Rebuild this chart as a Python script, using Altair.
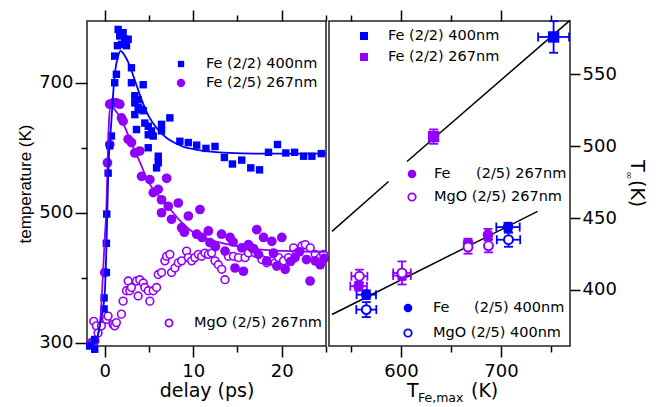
import altair as alt
import pandas as pd

BLUE = "#0000ff"
PURPLE = "#9000ff"
FONT = "DejaVu Sans"

# ---------------- left panel data: temperature vs delay ----------------
fe400_t = [-1.7, -1.13, -1.13, -0.07, -0.07, 0.19, 0.19, 0.23, 0.39, 0.57, 0.76, 1.13, 1.32, 1.13, 1.52,
           1.70, 2.08, 2.26, 1.89, 2.65, 1.44, 2.46, 3.02, 3.02, 3.40, 4.35, 3.40, 3.78, 3.78, 4.16,
           3.40, 4.35, 4.53, 3.59, 4.92, 4.92, 5.29, 5.48, 6.42, 6.42, 4.92, 6.05, 6.05, 5.86, 7.36,
           8.49, 9.45, 10.39, 11.44, 12.46, 13.52, 14.43, 15.48, 16.50, 17.49, 18.50, 19.52, 20.46,
           21.45, 22.47, 23.41, 24.46]
fe400_T = [295, 290, 305, 352, 369, 408, 453, 498, 561, 603, 618, 700, 713, 741, 782,
           772, 777, 767, 759, 767, 757, 757, 723, 700, 680, 697, 669, 674, 662, 659,
           651, 657, 638, 628, 633, 620, 626, 618, 636, 626, 600, 587, 577, 569, 646,
           610, 608, 604, 599, 602, 585, 575, 581, 569, 566, 593, 605, 592,
           593, 587, 587, 591]

fe267_t = [-1.5, -1.13, 0.0, 0.31, 0.57, 0.57, 0.95, 1.32, 1.70, 1.89, 2.08, 2.65, 3.02, 3.40, 3.96,
           4.16, 5.10, 7.00, 5.48, 6.05, 6.42, 7.18, 8.31, 6.42, 7.55, 9.45, 10.76, 8.69, 10.39, 11.71,
           11.89, 13.20, 14.16, 15.48, 16.24, 17.18, 17.94, 18.88, 20.01, 13.59, 14.72, 15.67, 18.31,
           19.44, 20.39, 23.20, 21.50, 23.78, 24.35, 19.07, 17.37, 12.5, 9.0, 11.0, 14.5, 16.8, 21.0,
           22.0, 22.8, 24.8]
fe267_T = [300, 303, 408, 577, 605, 667, 669, 669, 667, 646, 641, 613, 608, 592, 595,
           556, 551, 553, 531, 536, 520, 510, 515, 500, 490, 495, 505, 477, 467, 472,
           454, 467, 462, 446, 451, 474, 462, 456, 462, 441, 415, 410, 426,
           418, 413, 395, 431, 426, 420, 438, 436, 448, 470, 462, 455, 445, 425,
           440, 428, 430]

mgo267_t = [-1.24, -0.94, -0.75, -0.37, 0.19, 0.38, 0.95, 1.13, 1.32, 1.89, 2.08, 2.46, 2.65, 2.83,
            3.02, 3.59, 3.78, 3.96, 4.35, 4.53, 5.10, 4.92, 5.48, 5.86, 6.05, 6.42, 6.80, 6.99, 7.36,
            7.55, 7.93, 8.31, 8.69, 9.25, 9.45, 9.82, 10.19, 10.58, 10.95, 11.33, 11.71, 12.08, 12.46,
            12.84, 13.22, 13.59, 13.97, 14.54, 15.11, 15.86, 16.24, 16.61, 16.99, 17.75, 18.31, 18.88,
            19.25, 19.64, 20.20, 20.77, 21.34, 21.71, 22.28, 22.65, 23.22, 23.78, 24.35, 24.73]
mgo267_T = [333, 326, 315, 326, 336, 341, 328, 326, 331, 344, 364, 380, 395, 380,
            385, 395, 372, 397, 392, 385, 364, 380, 380, 385, 405, 408, 426, 433, 436,
            408, 415, 423, 426, 441, 431, 426, 431, 436, 433, 438, 436, 438, 426,
            420, 413, 397, 433, 433, 431, 431, 438, 446, 438, 428, 423, 426,
            423, 431, 426, 431, 446, 438, 449, 451, 446, 436, 431, 436]

fit400_t = [-2, -1.5, -1, -0.5, 0, 0.2, 0.4, 0.75, 1.1, 1.5, 1.8, 2.2, 2.8, 3.5, 4.2, 5, 6, 7, 8, 9,
            10, 12, 14, 17, 20, 25]
fit400_T = [296, 297, 302, 330, 375, 450, 560, 640, 708, 740, 749, 743, 727, 700, 673, 648, 628, 615,
            607, 601, 598, 594, 592, 591, 591, 591]

fit267_t = [-2, -1.5, -1, -0.5, -0.2, 0, 0.2, 0.35, 0.5, 0.7, 1.0, 1.5, 2, 3, 4, 5, 6, 7, 8.5, 10,
            12.5, 14.5, 18, 21, 25]
fit267_T = [296, 297, 302, 335, 405, 459, 510, 590, 645, 667, 661, 652, 640, 608, 577, 546, 528, 512,
            488, 470, 456, 450, 443, 441, 440]

# ---------------- right panel data: T_inf vs T_Fe,max ----------------
r_group = ["Fe (2/2) 400nm", "Fe (2/2) 267nm",
           "Fe (2/5) 267nm", "Fe (2/5) 267nm", "Fe (2/5) 267nm", "Fe (2/5) 267nm",
           "MgO (2/5) 267nm", "MgO (2/5) 267nm", "MgO (2/5) 267nm", "MgO (2/5) 267nm",
           "Fe (2/5) 400nm", "Fe (2/5) 400nm",
           "MgO (2/5) 400nm", "MgO (2/5) 400nm"]
r_x = [752.6, 632.6, 557.6, 601.0, 667.0, 687.0, 558.4, 601.0, 667.0, 687.5, 565.3, 707.0, 565.3, 707.5]
r_y = [575.9, 506.6, 402.6, 410.0, 432.6, 438.4, 409.5, 411.8, 429.8, 430.7, 396.7, 443.7, 386.3, 434.9]
r_xerr = [15.5, 4, 8.3, 8.8, 0, 0, 8, 8.8, 0, 0, 9.7, 11.7, 10, 11.7]
r_yerr = [11, 5, 3, 3, 3, 4, 4.6, 8, 4.6, 4.6, 3, 3, 5.2, 4.9]

line_seg = ["a", "a", "b", "b", "c", "c"]
line_x = [531, 587.6, 606, 769, 531, 736.6]
line_y = [440.7, 475.4, 489.3, 587.4, 382.9, 454.6]

group_order = ["Fe (2/2) 400nm", "Fe (2/2) 267nm", "Fe (2/5) 267nm",
               "MgO (2/5) 267nm", "Fe (2/5) 400nm", "MgO (2/5) 400nm"]
group_colors = [BLUE, PURPLE, PURPLE, PURPLE, BLUE, BLUE]

# ---------------- layout constants ----------------
W1, W2, H = 239, 241, 325
X0_L, X0_R, Y0 = 86, 328, 18  # image position of plot origins (for legend placement)

dummy = pd.DataFrame({"d": [0]})

ax_common = dict(grid=False, domain=False, tickColor="black", tickWidth=1.5,
                 labelColor="black", labelFont=FONT, labelFontSize=18,
                 titleColor="black", titleFontWeight="normal")


def sym(x, y, shape, color, size, open_=False, x0=0):
    if open_:
        m = alt.Chart(dummy).mark_point(shape=shape, fill="white", stroke=color, strokeWidth=1.8,
                                        size=size, opacity=1, fillOpacity=1)
    else:
        m = alt.Chart(dummy).mark_point(shape=shape, filled=True, color=color, size=size, opacity=1)
    return m.encode(x=alt.value(x - x0), y=alt.value(y - Y0))


def txt(x, y, s, x0=0, size=14.5):
    return alt.Chart(dummy).mark_text(text=s, align="left", baseline="middle", font=FONT,
                                      fontSize=size, color="black").encode(
        x=alt.value(x - x0), y=alt.value(y - Y0))


# ---------------- left panel ----------------
xs1 = alt.Scale(domain=[-2, 25], nice=False, zero=False)
ys1 = alt.Scale(domain=[295, 795], nice=False, zero=False)

x1_bottom = alt.Axis(orient="bottom", values=[0, 5, 10, 15, 20, 25],
                     labelExpr="datum.value % 10 === 0 ? datum.label : ''",
                     tickSize={"condition": {"test": "datum.value % 10 === 0", "value": 11}, "value": 6},
                     labelPadding=5, labelFlush=False, title="delay (ps)", titleFont=FONT,
                     titleFontSize=19, titlePadding=1, **ax_common)
x1_top = alt.Axis(orient="top", values=[0, 5, 10, 15, 20, 25], labels=False,
                  tickSize={"condition": {"test": "datum.value % 10 === 0", "value": 11}, "value": 6},
                  title=None, **ax_common)
y1_left = alt.Axis(orient="left", values=[300, 400, 500, 600, 700],
                   labelExpr="datum.value % 200 === 100 ? datum.label : ''",
                   tickSize={"condition": {"test": "datum.value % 200 === 100", "value": 12}, "value": 6},
                   labelPadding=2, title="temperature (K)", titleFont="Liberation Sans",
                   titleFontSize=17, titlePadding=4, **ax_common)

df_fe400 = pd.DataFrame({"t": fe400_t, "T": fe400_T})
df_fe267 = pd.DataFrame({"t": fe267_t, "T": fe267_T})
df_mgo267 = pd.DataFrame({"t": mgo267_t, "T": mgo267_T})
df_fit400 = pd.DataFrame({"t": fit400_t, "T": fit400_T})
df_fit267 = pd.DataFrame({"t": fit267_t, "T": fit267_T})

l_mgo = alt.Chart(df_mgo267).mark_point(shape="circle", fill="white", stroke=PURPLE, strokeWidth=1.6,
                                       size=60, opacity=1, fillOpacity=1).encode(
    x=alt.X("t:Q", scale=xs1, axis=x1_bottom), y=alt.Y("T:Q", scale=ys1, axis=y1_left))
l_fe267 = alt.Chart(df_fe267).mark_circle(size=95, color=PURPLE, opacity=1).encode(
    x=alt.X("t:Q", scale=xs1, axis=None), y=alt.Y("T:Q", scale=ys1, axis=None))
l_fe400 = alt.Chart(df_fe400).mark_square(size=55, color=BLUE, opacity=1).encode(
    x=alt.X("t:Q", scale=xs1, axis=None), y=alt.Y("T:Q", scale=ys1, axis=None))
l_fit267 = alt.Chart(df_fit267).mark_line(color=PURPLE, strokeWidth=1.8, interpolate="monotone").encode(
    x=alt.X("t:Q", scale=xs1, axis=None), y=alt.Y("T:Q", scale=ys1, axis=None))
l_fit400 = alt.Chart(df_fit400).mark_line(color=BLUE, strokeWidth=1.8, interpolate="monotone").encode(
    x=alt.X("t:Q", scale=xs1, axis=x1_top), y=alt.Y("T:Q", scale=ys1, axis=None))

left_legend = [
    sym(180, 61, "square", BLUE, 40, x0=X0_L), txt(205, 61, "Fe (2/2) 400nm", x0=X0_L),
    sym(180, 80, "circle", PURPLE, 70, x0=X0_L), txt(205, 80, "Fe (2/5) 267nm", x0=X0_L),
    sym(168, 320, "circle", PURPLE, 50, open_=True, x0=X0_L), txt(193, 320, "MgO (2/5) 267nm", x0=X0_L),
]

left = alt.layer(l_mgo, l_fe267, l_fe400, l_fit267, l_fit400, *left_legend).resolve_axis(
    x="independent", y="independent").properties(width=W1, height=H)

# ---------------- right panel ----------------
xs2 = alt.Scale(domain=[528, 769], nice=False, zero=False)
ys2 = alt.Scale(domain=[361, 587], nice=False, zero=False)
cscale = alt.Scale(domain=group_order, range=group_colors)

x2_bottom = alt.Axis(orient="bottom", values=[550, 600, 650, 700, 750],
                     labelExpr="datum.value % 100 === 0 ? datum.label : ''",
                     tickSize={"condition": {"test": "datum.value % 100 === 0", "value": 11}, "value": 6},
                     labelPadding=5, labelFlush=False, title=None, **ax_common)
x2_top = alt.Axis(orient="top", values=[550, 600, 650, 700, 750], labels=False,
                  tickSize={"condition": {"test": "datum.value % 100 === 0", "value": 11}, "value": 6},
                  title=None, **ax_common)
y2_right = alt.Axis(orient="right", values=[400, 450, 500, 550], tickSize=10, labelPadding=2,
                    title=None, **ax_common)

df_r = pd.DataFrame({"group": r_group, "X": r_x, "Y": r_y, "XE": r_xerr, "YE": r_yerr})
df_r["xlo"] = df_r["X"] - df_r["XE"]
df_r["xhi"] = df_r["X"] + df_r["XE"]
df_r["ylo"] = df_r["Y"] - df_r["YE"]
df_r["yhi"] = df_r["Y"] + df_r["YE"]
df_lines = pd.DataFrame({"seg": line_seg, "X": line_x, "Y": line_y})

col = alt.Color("group:N", scale=cscale, legend=None)

r_xbar = alt.Chart(df_r).transform_filter("datum.XE > 0").mark_rule(strokeWidth=1.8).encode(
    x=alt.X("xlo:Q", scale=xs2, axis=x2_bottom), x2="xhi:Q",
    y=alt.Y("Y:Q", scale=ys2, axis=y2_right), color=col)
r_ybar = alt.Chart(df_r).mark_rule(strokeWidth=1.8).encode(
    x=alt.X("X:Q", scale=xs2, axis=None), y=alt.Y("ylo:Q", scale=ys2, axis=None), y2="yhi:Q", color=col)
r_xcap = alt.Chart(df_r).transform_filter("datum.XE > 0").transform_fold(
    ["xlo", "xhi"], as_=["k", "xc"]).mark_tick(orient="vertical", size=9, thickness=1.8, opacity=1).encode(
    x=alt.X("xc:Q", scale=xs2, axis=None), y=alt.Y("Y:Q", scale=ys2, axis=None), color=col)
r_ycap = alt.Chart(df_r).transform_fold(
    ["ylo", "yhi"], as_=["k", "yc"]).mark_tick(orient="horizontal", size=9, thickness=1.8, opacity=1).encode(
    x=alt.X("X:Q", scale=xs2, axis=None), y=alt.Y("yc:Q", scale=ys2, axis=None), color=col)
r_lines = alt.Chart(df_lines).mark_line(color="black", strokeWidth=1.5).encode(
    x=alt.X("X:Q", scale=xs2, axis=x2_top), y=alt.Y("Y:Q", scale=ys2, axis=None), detail="seg:N")
r_sq = alt.Chart(df_r).transform_filter(
    alt.FieldOneOfPredicate(field="group", oneOf=["Fe (2/2) 400nm", "Fe (2/2) 267nm"])).mark_square(
    size=130, opacity=1).encode(
    x=alt.X("X:Q", scale=xs2, axis=None), y=alt.Y("Y:Q", scale=ys2, axis=None), color=col)
r_fill = alt.Chart(df_r).transform_filter(
    alt.FieldOneOfPredicate(field="group", oneOf=["Fe (2/5) 267nm", "Fe (2/5) 400nm"])).mark_circle(
    size=115, opacity=1).encode(
    x=alt.X("X:Q", scale=xs2, axis=None), y=alt.Y("Y:Q", scale=ys2, axis=None), color=col)
r_open = alt.Chart(df_r).transform_filter(
    alt.FieldOneOfPredicate(field="group", oneOf=["MgO (2/5) 267nm", "MgO (2/5) 400nm"])).mark_point(
    shape="circle", fill="white", strokeWidth=2, size=80, opacity=1, fillOpacity=1).encode(
    x=alt.X("X:Q", scale=xs2, axis=None), y=alt.Y("Y:Q", scale=ys2, axis=None),
    stroke=alt.Stroke("group:N", scale=cscale, legend=None))

right_legend = [
    sym(363, 33, "square", BLUE, 64, x0=X0_R), txt(387, 33, "Fe (2/2) 400nm", x0=X0_R),
    sym(363, 54, "square", PURPLE, 64, x0=X0_R), txt(387, 54, "Fe (2/2) 267nm", x0=X0_R),
    sym(411, 171, "circle", PURPLE, 75, x0=X0_R), txt(433, 171, "Fe", x0=X0_R),
    txt(475, 171, "(2/5) 267nm", x0=X0_R),
    sym(411, 194, "circle", PURPLE, 55, open_=True, x0=X0_R), txt(433, 194, "MgO (2/5) 267nm", x0=X0_R),
    sym(407, 305, "circle", BLUE, 75, x0=X0_R), txt(432, 305, "Fe", x0=X0_R),
    txt(473, 305, "(2/5) 400nm", x0=X0_R),
    sym(407, 330, "circle", BLUE, 55, open_=True, x0=X0_R), txt(432, 330, "MgO (2/5) 400nm", x0=X0_R),
]


def title_part(x, y, s, size, angle=0):
    return alt.Chart(dummy).mark_text(text=s, align="left", baseline="alphabetic", font=FONT,
                                      fontSize=size, color="black", angle=angle).encode(
        x=alt.value(x - X0_R), y=alt.value(y - Y0))


right_titles = [
    title_part(406, 394, "T", 19), title_part(417, 399, "Fe,max", 12.5), title_part(470, 394, "(K)", 19),
    title_part(630, 157, "T", 19, angle=90), title_part(625, 168, "∞", 10, angle=90),
    title_part(630, 177, "(K)", 19, angle=90),
]

right = alt.layer(r_xbar, r_lines, r_ybar, r_xcap, r_ycap, r_sq, r_fill, r_open,
                  *right_legend, *right_titles).resolve_axis(
    x="independent", y="independent").properties(width=W2, height=H)

chart = alt.hconcat(left, right, spacing=3, bounds="flush").configure_view(
    stroke="#222222", strokeWidth=1.5).properties(
    padding={"left": 7, "top": 0, "right": 5, "bottom": 0})

chart.save("out.html", embed_options={"renderer": "svg", "actions": False})
